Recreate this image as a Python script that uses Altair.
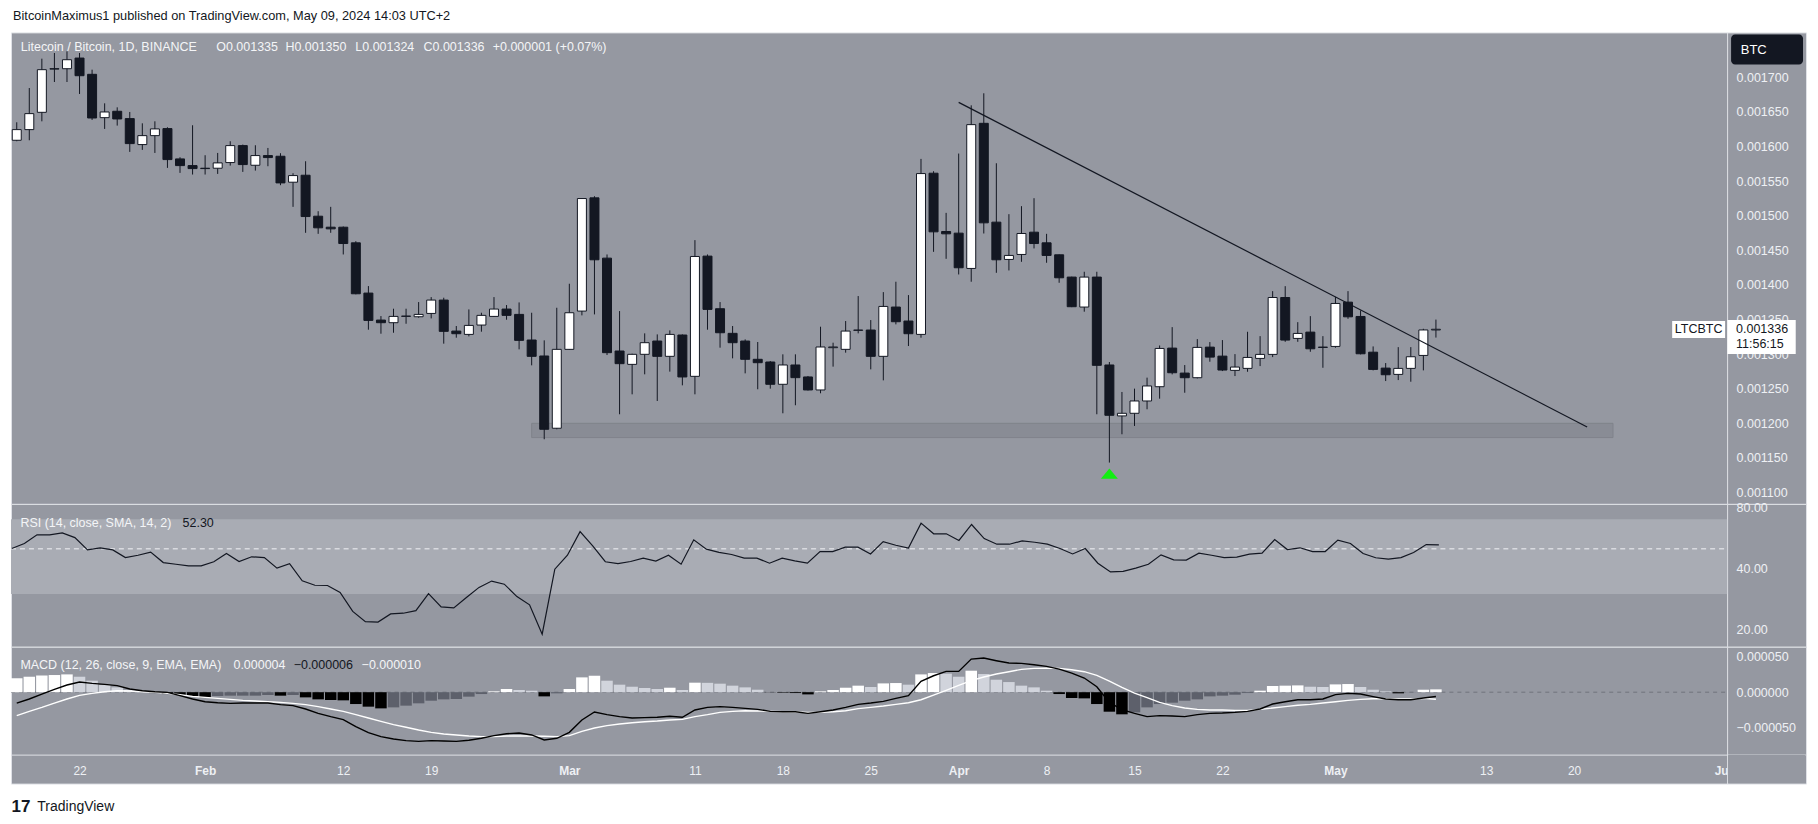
import json
import altair as alt
import pandas as pd

FONT = "Liberation Sans"
BG = "#9598a1"
BAND = "#a9acb4"
FRAME = "#dfe1e6"
DARK = "#131722"
TXT = "#eef0f4"

# ---------------- data (prices in millionths of BTC) ----------------
dates = pd.date_range("2024-01-17", "2024-05-09", freq="D")

open_u = [1609.1, 1624.5, 1649.5, 1712.5, 1712.5, 1727.9, 1704.4, 1641.8, 1651.0, 1640.4, 1602.9, 1615.8, 1626.0, 1582.2, 1572.5,
          1568.7, 1568.7, 1576.9, 1601.4, 1573.0, 1587.0, 1586.0, 1548.5, 1558.6, 1499.4, 1483.5, 1483.5, 1460.9, 1388.3, 1349.3,
          1345.5, 1354.6, 1354.1, 1358.9, 1378.2, 1333.4, 1328.6, 1342.1, 1354.6, 1365.2, 1357.5, 1320.5, 1297.4, 1193.0,
          1307.0, 1362.3, 1525.9, 1438.8, 1304.6, 1285.3, 1299.8, 1319.0, 1296.9, 1327.7, 1268.0, 1441.7, 1365.7, 1330.1, 1319.0,
          1292.6, 1288.7, 1256.5, 1284.4, 1267.1, 1248.3, 1309.4, 1307.0, 1334.4, 1334.9, 1296.9, 1368.1, 1347.9, 1328.6, 1561.5, 1477.3,
          1474.9, 1423.9, 1633.6, 1490.8, 1436.9, 1444.1, 1476.3, 1460.9, 1443.6, 1411.4, 1368.1, 1411.4, 1284.4, 1210.8, 1214.6,
          1232.4, 1253.0, 1308.8, 1272.7, 1266.0, 1310.2, 1297.2, 1276.6, 1279.5, 1293.9, 1299.7, 1381.9, 1322.8, 1331.9, 1310.2,
          1311.2, 1375.2, 1354.5, 1302.9, 1279.9, 1270.8, 1279.5, 1298.2, 1335.0]
high_u = [1635.1, 1684.6, 1727.0, 1735.2, 1737.6, 1735.2, 1711.1, 1662.5, 1656.7, 1650.0, 1633.6, 1636.5, 1627.9, 1584.6, 1630.8,
          1587.5, 1590.8, 1607.7, 1602.9, 1601.9, 1598.0, 1590.4, 1561.5, 1578.8, 1506.6, 1512.9, 1484.5, 1463.3, 1398.4, 1355.1,
          1365.7, 1365.7, 1375.3, 1382.5, 1381.6, 1340.7, 1364.7, 1359.9, 1382.5, 1371.0, 1374.8, 1359.9, 1320.0, 1367.1,
          1401.8, 1525.5, 1528.3, 1444.1, 1362.3, 1300.7, 1330.1, 1328.6, 1334.4, 1328.6, 1464.8, 1444.1, 1375.3, 1340.7, 1321.4,
          1317.6, 1290.1, 1299.8, 1299.8, 1268.5, 1339.7, 1316.6, 1347.9, 1384.0, 1349.3, 1389.7, 1404.7, 1385.4, 1582.2, 1564.4, 1504.2,
          1589.9, 1659.6, 1677.0, 1575.9, 1502.3, 1513.9, 1525.4, 1473.9, 1444.0, 1412.0, 1419.1, 1419.1, 1288.7, 1245.4, 1250.2,
          1266.1, 1312.6, 1339.1, 1284.3, 1321.8, 1317.5, 1320.4, 1300.1, 1332.4, 1326.1, 1391.1, 1398.3, 1346.3, 1355.0, 1326.1,
          1382.9, 1391.1, 1363.2, 1311.2, 1287.2, 1310.2, 1310.2, 1336.7, 1350.0]
low_u = [1607.7, 1609.1, 1636.5, 1693.3, 1693.3, 1676.0, 1638.5, 1625.5, 1630.3, 1592.3, 1595.2, 1590.8, 1569.2, 1562.0, 1559.6,
         1559.6, 1560.5, 1572.5, 1563.4, 1565.3, 1571.6, 1544.2, 1512.9, 1475.4, 1473.9, 1475.4, 1444.1, 1386.5, 1335.4, 1329.6,
         1331.0, 1344.0, 1352.7, 1351.7, 1315.2, 1323.8, 1325.7, 1332.5, 1354.0, 1349.8, 1307.0, 1283.9, 1177.1, 1191.5,
         1306.5, 1356.1, 1357.5, 1298.8, 1213.2, 1242.0, 1270.9, 1232.4, 1274.8, 1255.0, 1242.0, 1335.4, 1309.4, 1294.0, 1272.3,
         1249.3, 1250.2, 1214.6, 1226.2, 1247.5, 1243.5, 1282.0, 1302.2, 1330.1, 1278.1, 1262.2, 1343.1, 1311.8, 1323.8, 1447.9, 1437.8,
         1415.2, 1404.7, 1474.4, 1417.6, 1421.0, 1433.5, 1452.8, 1432.1, 1403.2, 1368.0, 1361.4, 1213.2, 1143.4, 1184.3, 1196.3,
         1220.4, 1235.7, 1270.8, 1244.3, 1265.0, 1289.1, 1275.6, 1268.4, 1274.6, 1282.8, 1295.8, 1317.9, 1317.9, 1303.5, 1280.4,
         1309.3, 1351.1, 1299.7, 1276.6, 1261.2, 1262.6, 1260.2, 1276.6, 1324.0]
close_u = [1624.5, 1647.6, 1711.1, 1712.0, 1725.5, 1702.4, 1641.3, 1650.0, 1639.9, 1604.3, 1615.8, 1625.5, 1581.2, 1572.5, 1568.2,
           1568.2, 1576.4, 1601.4, 1574.0, 1587.0, 1584.1, 1547.5, 1558.1, 1498.9, 1482.6, 1481.1, 1459.9, 1387.3, 1348.8, 1345.5,
           1354.6, 1355.1, 1357.5, 1378.2, 1333.0, 1329.6, 1341.6, 1356.1, 1365.2, 1356.1, 1320.0, 1296.9, 1191.5, 1307.0,
           1359.9, 1524.9, 1436.4, 1302.2, 1286.3, 1299.8, 1316.6, 1296.9, 1328.6, 1267.1, 1441.2, 1364.7, 1331.0, 1316.6, 1292.6,
           1287.7, 1256.5, 1284.4, 1266.1, 1248.3, 1310.4, 1310.4, 1333.4, 1334.9, 1296.9, 1369.0, 1346.9, 1329.6, 1561.0, 1476.8, 1473.9,
           1424.9, 1631.7, 1489.8, 1436.4, 1442.7, 1474.4, 1459.9, 1442.7, 1410.4, 1368.6, 1411.4, 1283.9, 1211.7, 1214.6, 1232.4,
           1254.1, 1308.3, 1273.2, 1266.0, 1309.8, 1295.8, 1277.1, 1281.4, 1295.3, 1299.7, 1381.9, 1320.4, 1330.0, 1307.8, 1309.8,
           1373.3, 1354.0, 1300.6, 1278.0, 1270.3, 1279.5, 1296.3, 1335.0, 1336.0]

rsi = [50.2, 53.1, 58.6, 58.6, 59.9, 56.8, 49.4, 50.6, 49.4, 45.3, 46.5, 48.2, 42.8, 42.0, 41.2,
       41.2, 43.2, 47.4, 43.3, 45.7, 45.3, 40.2, 42.3, 34.8, 33.1, 33.0, 30.5, 24.6, 21.9, 21.8,
       23.9, 24.1, 24.8, 30.1, 25.9, 25.6, 28.8, 32.3, 34.7, 33.5, 29.1, 26.5, 19.0, 39.7,
       46.5, 60.8, 51.7, 43.2, 42.3, 43.3, 45.0, 43.5, 46.5, 42.0, 55.4, 49.8, 48.0, 46.9, 45.0,
       45.0, 42.5, 45.0, 43.6, 42.5, 48.5, 48.5, 51.0, 51.0, 47.2, 54.3, 52.1, 50.4, 66.9, 59.3, 59.3,
       55.0, 65.9, 56.2, 52.7, 52.7, 54.7, 53.9, 52.7, 50.2, 47.2, 50.2, 42.5, 38.5, 38.7, 40.2,
       42.0, 46.7, 44.1, 44.0, 47.6, 46.5, 45.3, 45.5, 47.1, 47.6, 55.6, 49.6, 50.6, 48.5, 48.5,
       55.2, 53.1, 47.4, 45.2, 44.5, 45.3, 48.0, 52.5, 52.3]

# MACD values in millionths of BTC
macd_u = [-15.3, -9.6, -2.6, 4.0, 10.1, 14.3, 12.4, 11.0, 9.2, 4.5, 2.1, 0.7, -0.2, -4.9, -9.6,
          -13.4, -14.8, -15.7, -15.3, -15.3, -15.3, -17.6, -19.0, -23.7, -29.8, -34.5, -38.7, -48.6, -57.0, -62.7,
          -66.0, -68.3, -69.3, -68.3, -68.8, -69.3, -67.8, -65.0, -61.3, -58.5, -57.5, -60.3, -67.4, -65.0,
          -56.6, -39.2, -27.9, -31.7, -34.5, -36.4, -35.9, -35.4, -34.0, -35.4, -25.1, -21.4, -20.4, -21.4, -22.8,
          -24.2, -27.0, -27.5, -27.5, -29.8, -27.5, -25.1, -21.4, -17.1, -15.3, -12.9, -8.7, -4.9, 15.3, 23.2, 29.3,
          29.3, 46.7, 48.1, 44.4, 41.1, 40.6, 38.7, 36.4, 32.6, 27.0, 20.0, 7.7, -14.3, -24.6, -29.8,
          -34.5, -33.1, -33.6, -34.5, -31.7, -29.8, -29.3, -28.4, -27.0, -23.7, -16.7, -13.4, -10.6, -10.6, -9.6,
          -3.5, -1.6, -2.6, -6.3, -9.6, -10.6, -10.6, -8.2, -6.0]
signal_u = [-33.1, -27.0, -21.4, -15.3, -9.6, -4.5, -1.6, 0.7, 2.1, 1.6, 0.7, -0.2, -1.6, -3.5, -5.9,
            -7.3, -8.7, -10.1, -11.5, -12.4, -13.4, -14.3, -15.7, -17.6, -20.4, -23.7, -27.0, -31.7, -36.4, -41.1,
            -45.8, -49.5, -53.3, -56.6, -58.9, -60.3, -61.7, -62.7, -62.7, -61.7, -61.7, -61.7, -62.2, -62.7,
            -61.3, -55.2, -50.5, -47.2, -44.8, -43.0, -41.6, -40.6, -39.2, -38.3, -34.5, -31.7, -28.4, -27.0, -26.1,
            -26.5, -27.0, -27.5, -27.9, -28.4, -28.4, -27.5, -26.1, -23.2, -21.4, -19.5, -17.1, -14.8, -10.6, -4.0, 2.6,
            9.6, 16.2, 21.4, 25.6, 28.9, 32.2, 33.6, 34.0, 33.6, 31.7, 28.9, 23.7, 15.7, 6.8, -1.2,
            -7.7, -14.3, -19.0, -22.3, -24.2, -25.1, -25.1, -25.6, -25.6, -24.2, -22.3, -20.4, -18.5, -17.1, -15.3,
            -13.4, -11.5, -10.1, -9.2, -9.2, -9.6, -9.6, -8.7, -10.0]
hist_u = [19.5, 21.8, 23.7, 24.2, 25.1, 21.8, 16.2, 10.1, 6.8, 3.1, 1.2, -1.2, -2.6, -4.0, -5.4,
          -7.3, -5.4, -4.9, -4.9, -4.9, -4.0, -4.9, -4.0, -7.3, -10.1, -11.0, -11.5, -16.7, -20.4, -22.8,
          -21.4, -19.0, -15.7, -12.0, -10.1, -9.6, -6.3, -2.6, 1.2, 4.5, 3.1, 2.1, -5.9, -1.6,
          4.5, 20.9, 23.2, 16.2, 10.6, 7.7, 5.9, 4.5, 6.3, 3.1, 13.4, 13.2, 12.0, 9.2, 6.8,
          3.5, -0.2, -0.7, -1.2, -3.1, 1.2, 3.1, 6.3, 9.2, 7.3, 12.4, 12.9, 10.6, 25.1, 27.0, 26.1,
          21.8, 30.3, 25.6, 17.6, 14.3, 9.2, 6.8, 2.1, -2.6, -8.2, -8.7, -16.7, -27.5, -31.2, -28.4,
          -21.4, -16.7, -14.8, -12.0, -10.1, -5.9, -4.9, -3.5, -1.2, 2.1, 8.7, 9.2, 9.6, 7.7, 7.3,
          11.0, 11.5, 7.3, 3.5, 1.2, -1.6, -0.2, 3.5, 4.0]

# drawings (days counted from 2024-04-01)
trend_days = [0.0, 50.04]
trend_u = [1663.9, 1194.8]
zone_days = [-34.0, 52.1]
zone_u = [1179.5, 1200.1]
marker_day = [12]
marker_u = [1127.4]
rsi_levels = {"upper": 70, "middle": 50, "lower": 30}

# axis ticks
x_tick_days = [-70, -60, -49, -42, -31, -21, -14, -7, 0, 7, 14, 21, 30, 42, 49, 61]
x_tick_labels = ["22", "Feb", "12", "19", "Mar", "11", "18", "25", "Apr", "8", "15", "22", "May", "13", "20", "Jun"]
month_tick_days = [-60, -31, 0, 30, 61]
price_ticks = [0.0011, 0.00115, 0.0012, 0.00125, 0.0013, 0.00135, 0.0014, 0.00145, 0.0015,
               0.00155, 0.0016, 0.00165, 0.0017]
rsi_ticks = [20, 40, 80]
macd_ticks = [-0.00005, 0.0, 0.00005]

# ---------------- frames ----------------
ref = pd.Timestamp("2024-04-01")
day = [(d - ref).days for d in dates]
E6 = 1e6

df = pd.DataFrame({
    "day": day,
    "open": [v / E6 for v in open_u],
    "high": [v / E6 for v in high_u],
    "low": [v / E6 for v in low_u],
    "close": [v / E6 for v in close_u],
    "rsi": rsi,
    "macd": [v / E6 for v in macd_u],
    "signal": [v / E6 for v in signal_u],
    "hist": [v / E6 for v in hist_u],
})
df["dir"] = ["up" if c >= o else "down" for o, c in zip(open_u, close_u)]
hcol = []
for i, h in enumerate(hist_u):
    p = hist_u[i - 1] if i > 0 else None
    if h >= 0:
        hcol.append("pos_up" if (p is None or h > p) else "pos_down")
    else:
        hcol.append("neg_down" if (p is None or h < p) else "neg_up")
df["hcol"] = hcol
df["base"] = 0.0

one = pd.DataFrame({"k": [0]})
trend_df = pd.DataFrame({"day": trend_days, "price": [v / E6 for v in trend_u]})
zone_df = pd.DataFrame({"d0": [zone_days[0]], "d1": [zone_days[1]],
                        "p0": [zone_u[0] / E6], "p1": [zone_u[1] / E6]})
marker_df = pd.DataFrame({"day": marker_day, "price": [v / E6 for v in marker_u]})
last_df = pd.DataFrame({"close": [close_u[-1] / E6]})
band_df = pd.DataFrame({"hi": [rsi_levels["upper"]], "lo": [rsi_levels["lower"]], "mid": [rsi_levels["middle"]]})
zero_df = pd.DataFrame({"z": [0.0]})

# ---------------- geometry ----------------
W = 1797          # plot incl. price-axis strip
PLOT_W = 1718     # data area
H1, H2, H3 = 472, 143, 137
X_DOM = [-75.06, 67.07]

xs = alt.Scale(domain=X_DOM, nice=False, zero=False)


def X(field="day"):
    return alt.X(f"{field}:Q", scale=xs, axis=None)


def yaxis(values, fmt):
    return alt.Axis(orient="right", offset=-(W - PLOT_W), values=values, format=fmt, title=None,
                    grid=False, ticks=False, tickSize=0, labelPadding=9, labelColor=TXT,
                    labelFont=FONT, labelFontSize=12.5, domainColor=FRAME, domainWidth=1,
                    labelFlush=False, labelOverlap=False, labelBound=False)


p_scale = alt.Scale(domain=[0.00108367, 0.00176495], nice=False, zero=False)
p_axis = yaxis(price_ticks, ".6f")


def YP(field):
    return alt.Y(f"{field}:Q", scale=p_scale, axis=p_axis)


def txt(text, x, y, color, size=12.5, weight="normal", align="left"):
    return alt.Chart(one).mark_text(text=text, align=align, baseline="middle", font=FONT,
                                    fontSize=size, fontWeight=weight, color=color
                                    ).encode(x=alt.value(x), y=alt.value(y))


# ---------------- main pane ----------------
bounds_rect = alt.Chart(one).mark_rect(opacity=0).encode(
    x=alt.value(-10), x2=alt.value(1808), y=alt.value(-31), y2=alt.value(793))

zone = alt.Chart(zone_df).mark_rect(fill="#898c95", stroke="#80838b", strokeWidth=1).encode(
    x=X("d0"), x2="d1:Q", y=YP("p0"), y2="p1:Q")

wicks = alt.Chart(df).mark_rule(color=DARK, strokeWidth=1, clip=True).encode(
    x=X(), y=YP("low"), y2="high:Q")

bodies = alt.Chart(df).mark_bar(size=9, stroke=DARK, strokeWidth=1, clip=True).encode(
    x=X(), y=YP("open"), y2="close:Q",
    fill=alt.Fill("dir:N", scale=alt.Scale(domain=["up", "down"], range=["#ffffff", DARK]), legend=None))

trend = alt.Chart(trend_df).mark_line(color=DARK, strokeWidth=1.2).encode(x=X(), y=YP("price"))

marker = alt.Chart(marker_df).mark_point(shape="M0,-0.6L1,0.6L-1,0.6Z", size=289, filled=True,
                                         color="#12ee12", opacity=1).encode(x=X(), y=YP("price"))

legend_main = [
    txt("Litecoin / Bitcoin, 1D, BINANCE", 9.8, 15, "#f4f5f7"),
    txt("O0.001335", 205.5, 15, "#f4f5f7"),
    txt("H0.001350", 274.7, 15, "#f4f5f7"),
    txt("L0.001324", 344.7, 15, "#f4f5f7"),
    txt("C0.001336", 413, 15, "#f4f5f7"),
    txt("+0.000001 (+0.07%)", 482.3, 15, "#f4f5f7"),
]
header = txt("BitcoinMaximus1 published on TradingView.com, May 09, 2024 14:03 UTC+2", 2, -16, DARK, size=12.8)

btc_box = alt.Chart(one).mark_rect(fill=DARK, cornerRadius=4).encode(
    x=alt.value(1722), x2=alt.value(1794), y=alt.value(2), y2=alt.value(32))
btc_text = txt("BTC", 1731.7, 17.3, "#ffffff", size=13)

ltc_box = alt.Chart(last_df).mark_rect(fill="#ffffff", yOffset=-8.2, y2Offset=8.8).encode(
    x=alt.value(1663), x2=alt.value(1716), y=YP("close"), y2="close:Q")
ltc_text = alt.Chart(last_df).mark_text(text="LTCBTC", align="center", baseline="middle", font=FONT,
                                        fontSize=12.5, color=DARK).encode(x=alt.value(1689.5), y=YP("close"))
price_box = alt.Chart(last_df).mark_rect(fill="#ffffff", yOffset=-9.2, y2Offset=24.8).encode(
    x=alt.value(1718.3), x2=alt.value(1786.7), y=YP("close"), y2="close:Q")
price_text = alt.Chart(last_df).mark_text(align="left", baseline="middle", font=FONT, fontSize=12.5,
                                          color=DARK).encode(
    x=alt.value(1727), y=YP("close"), text=alt.Text("close:Q", format=".6f"))
timer_text = alt.Chart(last_df).mark_text(text="11:56:15", align="left", baseline="middle", dy=15,
                                          font=FONT, fontSize=12.5, color=DARK).encode(
    x=alt.value(1727), y=YP("close"))

main = alt.layer(bounds_rect, header, zone, wicks, bodies, trend, marker, *legend_main,
                 btc_box, btc_text, ltc_box, ltc_text, price_box, price_text, timer_text
                 ).properties(width=W, height=H1)

# ---------------- RSI pane ----------------
r_scale = alt.Scale(type="log", domain=[16.48, 83.23], nice=False)
r_axis = yaxis(rsi_ticks, ".2f")


def YR(field):
    return alt.Y(f"{field}:Q", scale=r_scale, axis=r_axis)


band = alt.Chart(band_df).mark_rect(fill=BAND).encode(
    x=alt.value(0), x2=alt.value(PLOT_W), y=YR("hi"), y2="lo:Q")
midline = alt.Chart(band_df).mark_rule(color="#f2f3f6", strokeWidth=1, strokeDash=[5, 4]).encode(
    x=alt.value(0), x2=alt.value(PLOT_W), y=YR("mid"))
rsi_line = alt.Chart(df).mark_line(color=DARK, strokeWidth=1.2).encode(x=X(), y=YR("rsi"))
rsi_pane = alt.layer(band, midline, rsi_line,
                     txt("RSI (14, close, SMA, 14, 2)", 9.4, 18.7, "#f4f5f7"),
                     txt("52.30", 171.8, 18.7, DARK)
                     ).properties(width=W, height=H2)

# ---------------- MACD pane ----------------
m_scale = alt.Scale(domain=[-0.00012886, 0.00006408], nice=False, zero=False)
m_axis = yaxis(macd_ticks, ".6f")


def YM(field):
    return alt.Y(f"{field}:Q", scale=m_scale, axis=m_axis)


label_expr = f"{json.dumps(x_tick_labels)}[indexof({json.dumps(x_tick_days)}, datum.value)]"
x_axis = alt.Axis(orient="bottom", offset=-29, values=x_tick_days, labelExpr=label_expr,
                  labelFontWeight={"condition": {"test": f"indexof({json.dumps(month_tick_days)}, datum.value) >= 0",
                                                 "value": "bold"}, "value": "normal"},
                  title=None, grid=False, ticks=False, tickSize=0, labelPadding=16, labelBaseline="middle",
                  labelColor=TXT, labelFont=FONT, labelFontSize=12, domainColor=FRAME, domainWidth=1,
                  labelFlush=False, labelOverlap=False, labelBound=False)


def XM(field="day"):
    return alt.X(f"{field}:Q", scale=xs, axis=x_axis)


zero_line = alt.Chart(zero_df).mark_rule(color="#6f727b", strokeWidth=1, strokeDash=[4, 4]).encode(
    x=alt.value(0), x2=alt.value(PLOT_W), y=YM("z"))
hist = alt.Chart(df).mark_bar(size=11.5).encode(
    x=XM(), y=YM("hist"), y2="base:Q",
    color=alt.Color("hcol:N", scale=alt.Scale(domain=["pos_up", "pos_down", "neg_down", "neg_up"],
                                              range=["#ffffff", "#d1d4dc", "#000000", "#5d606b"]), legend=None))
signal_line = alt.Chart(df).mark_line(color="#ffffff", strokeWidth=1.4).encode(x=XM(), y=YM("signal"))
macd_line = alt.Chart(df).mark_line(color="#000000", strokeWidth=1.4).encode(x=XM(), y=YM("macd"))
cover = alt.Chart(one).mark_rect(fill=BG).encode(
    x=alt.value(PLOT_W + 1), x2=alt.value(W - 0.5), y=alt.value(108.5), y2=alt.value(136.5))

macd_pane = alt.layer(zero_line, hist, signal_line, macd_line,
                      txt("MACD (12, 26, close, 9, EMA, EMA)", 9.4, 18, "#f4f5f7"),
                      txt("0.000004", 222.7, 18, "#f4f5f7"),
                      txt("\u22120.000006", 283, 18, DARK),
                      txt("\u22120.000010", 351, 18, "#f4f5f7"),
                      cover,
                      txt("17", 0.5, 160, DARK, size=17, weight="bold"),
                      txt("TradingView", 26.4, 160, DARK, size=14)
                      ).properties(width=W, height=H3)

chart = alt.vconcat(main, rsi_pane, macd_pane, spacing=0, bounds="flush").properties(
    padding=0, background="#ffffff"
).configure_view(fill=BG, stroke=FRAME, strokeWidth=1)

chart.save("out.html", embed_options={"renderer": "svg", "actions": False})
